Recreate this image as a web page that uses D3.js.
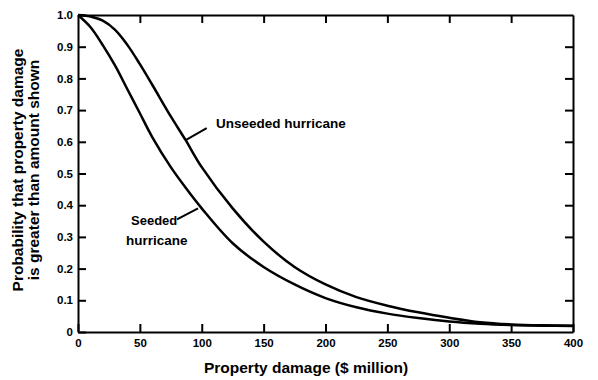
<!DOCTYPE html>
<html><head><meta charset="utf-8">
<script src="https://cdn.jsdelivr.net/npm/d3@7"></script>
<style>body{margin:0;background:#fff}svg{display:block}text{font-family:"Liberation Sans",Arial,sans-serif;font-weight:bold;fill:#000}</style>
</head><body><svg id="c" width="598" height="380"></svg>
<script>
const damage = [0,10,20,30,40,50,60,75,87,100,125,150,175,200,225,250,275,300,325,350,375,400];
const seeded = [1.0,0.962,0.905,0.84,0.765,0.69,0.615,0.52,0.455,0.39,0.28,0.205,0.15,0.107,0.078,0.058,0.044,0.033,0.026,0.022,0.020,0.019];
const unseeded = [1.0,0.995,0.982,0.953,0.905,0.845,0.78,0.68,0.605,0.52,0.39,0.285,0.205,0.15,0.11,0.083,0.062,0.045,0.031,0.024,0.021,0.02];
const xTicks = [0,50,100,150,200,250,300,350,400];
const yTicks = [0,0.1,0.2,0.3,0.4,0.5,0.6,0.7,0.8,0.9,1.0];
const yTickLabels = ["0","0.1","0.2","0.3","0.4","0.5","0.6","0.7","0.8","0.9","1.0"];

const svg = d3.select("#c");
const x = d3.scaleLinear().domain([0,400]).range([78,573]);
const y = d3.scaleLinear().domain([0,1]).range([332,15]);
const tk = 8;

// bottom axis with inward ticks (labels + ticks)
const bx = svg.append("g").attr("transform",`translate(0,${y(0)})`)
  .call(d3.axisBottom(x).tickValues(xTicks).tickSizeInner(-tk).tickSizeOuter(0).tickPadding(7).tickFormat(d3.format("d")));
bx.select(".domain").attr("stroke-width",2);
bx.selectAll(".tick line").attr("stroke","#000").attr("stroke-width",2);
bx.selectAll("text").attr("font-size",11.5);
// top axis ticks
const tx = svg.append("g").attr("transform",`translate(0,${y(1)})`)
  .call(d3.axisTop(x).tickValues(xTicks.slice(1,-1)).tickSizeInner(-tk).tickSizeOuter(0).tickFormat(() => ""));
tx.select(".domain").attr("stroke-width",2);
tx.selectAll(".tick line").attr("stroke","#000").attr("stroke-width",2);
// left axis
const ly = svg.append("g").attr("transform",`translate(${x(0)},0)`)
  .call(d3.axisLeft(y).tickValues(yTicks).tickSizeInner(-tk).tickSizeOuter(0).tickPadding(5).tickFormat((d,i)=>yTickLabels[i]));
ly.select(".domain").attr("stroke-width",2);
ly.selectAll(".tick line").attr("stroke","#000").attr("stroke-width",2);
ly.selectAll("text").attr("font-size",11.5).attr("x",-5);
// right axis ticks
const ry = svg.append("g").attr("transform",`translate(${x(400)},0)`)
  .call(d3.axisRight(y).tickValues(yTicks.slice(1,-1)).tickSizeInner(-tk).tickSizeOuter(0).tickFormat(() => ""));
ry.select(".domain").attr("stroke-width",2);
ry.selectAll(".tick line").attr("stroke","#000").attr("stroke-width",2);

// curves
const line = vals => d3.line().x((d,i)=>x(damage[i])).y(d=>y(d)).curve(d3.curveCatmullRom.alpha(0.5))(vals);
svg.append("path").attr("d",line(seeded)).attr("fill","none").attr("stroke","#000").attr("stroke-width",2.5);
svg.append("path").attr("d",line(unseeded)).attr("fill","none").attr("stroke","#000").attr("stroke-width",2.5);

// annotations
svg.append("line").attr("x1",x(87)).attr("y1",y(0.605)).attr("x2",x(104)).attr("y2",y(0.643)).attr("stroke","#000").attr("stroke-width",2);
svg.append("text").attr("x",216).attr("y",128).attr("font-size",13.5).text("Unseeded hurricane");
svg.append("line").attr("x1",x(97)).attr("y1",y(0.39)).attr("x2",x(80)).attr("y2",y(0.355)).attr("stroke","#000").attr("stroke-width",2);
svg.append("text").attr("x",131).attr("y",225).attr("font-size",13).text("Seeded");
svg.append("text").attr("x",126).attr("y",245).attr("font-size",13.5).text("hurricane");

// axis titles
svg.append("text").attr("x",306).attr("y",373).attr("text-anchor","middle").attr("font-size",15.5).text("Property damage ($ million)");
const yt = svg.append("text").attr("transform","translate(18,170) rotate(-90)").attr("text-anchor","middle").attr("font-size",15.5);
yt.append("tspan").attr("x",0).attr("y",5).text("Probability that property damage");
yt.append("tspan").attr("x",0).attr("y",21).text("is greater than amount shown");
</script></body></html>
